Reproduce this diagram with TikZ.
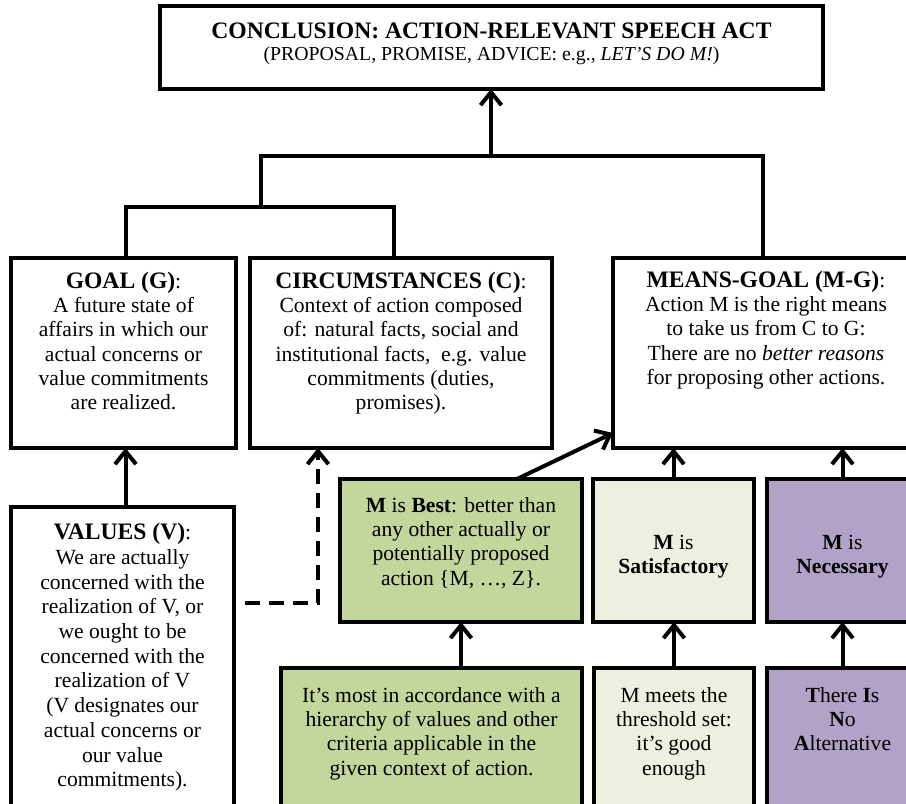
\documentclass[tikz,border=0pt]{standalone}
\usepackage{fontspec}
\setmainfont{Liberation Serif}
\usetikzlibrary{arrows.meta}
\definecolor{bestgreen}{HTML}{C3D69B}
\definecolor{satgreen}{HTML}{EBF1DE}
\definecolor{necpurple}{HTML}{B2A2C7}
\newcommand\bodyfont{\fontsize{21.6}{24.3}\selectfont}
\newcommand\hd[1]{{\fontsize{23.6}{24.3}\selectfont\bfseries\strut #1}}
\begin{document}
\begin{tikzpicture}[x=1pt,y=-1pt,
  box/.style={draw=black, line width=4.5pt, inner sep=0pt, outer sep=0pt, fill=white},
  txt/.style={anchor=north, inner sep=0pt, align=center, font=\bodyfont},
  link/.style={draw=black, line width=4pt},
  arr/.style={link, -{Straight Barb[length=13pt,width=21pt]}},
  dasharr/.style={arr, dash pattern=on 15pt off 9pt}]
\useasboundingbox (0,0) rectangle (906,804);
\clip (0,0) rectangle (906,804);
\fill[white] (0,0) rectangle (906,804);
% boxes
\node[box, minimum width=663pt, minimum height=83pt] (top) at (491.5,47.5) {};
\node[box, minimum width=225pt, minimum height=190pt] (goal) at (123.5,353) {};
\node[box, minimum width=302pt, minimum height=190pt] (circ) at (401,353) {};
\node[box, minimum width=306pt, minimum height=190pt] (mg) at (766,353) {};
\node[box, minimum width=223pt, minimum height=323pt] (vals) at (122.5,668.5) {};
\node[box, fill=bestgreen, minimum width=242pt, minimum height=143pt] (best) at (461,550.5) {};
\node[box, fill=satgreen, minimum width=161pt, minimum height=143pt] (sat) at (673.5,550.5) {};
\node[box, fill=necpurple, minimum width=151pt, minimum height=143pt] (nec) at (842.5,550.5) {};
\node[box, fill=bestgreen, minimum width=301pt, minimum height=162pt] (crit) at (431.5,749) {};
\node[box, fill=satgreen, minimum width=160pt, minimum height=162pt] (thr) at (674,749) {};
\node[box, fill=necpurple, minimum width=151pt, minimum height=162pt] (tina) at (842.5,749) {};
% texts
\node[txt, font=\fontsize{19.8}{22}\selectfont] (toptxt) at (491.5,21) {\hd{CONCLUSION: ACTION-RELEVANT SPEECH ACT}\\ (PROPOSAL, PROMISE, ADVICE: e.g., \textit{LET’S DO M!})};
\node[txt] (goaltxt) at (123.5,271) {\hd{GOAL (G)}:\\ A future state of\\ affairs in which our\\ actual concerns or\\ value commitments\\ are realized.};
\node[txt] (circtxt) at (401,271) {\hd{CIRCUMSTANCES (C)}:\\ Context of action composed\\ of: natural facts, social and\\ institutional facts,\ \ e.g. value\\ commitments (duties,\\ promises).};
\node[txt] (mgtxt) at (766,270) {\hd{MEANS-GOAL (M-G)}:\\ Action M is the right means\\ to take us from C to G:\\ There are no \textit{better reasons}\\ for proposing other actions.};
\node[txt, font=\fontsize{21.6}{24.7}\selectfont] (valstxt) at (122.5,522.5) {\hd{VALUES (V)}:\\ We are actually\\ concerned with the\\ realization of V, or\\ we ought to be\\ concerned with the\\ realization of V\\ (V designates our\\ actual concerns or\\ our value\\ commitments).};
\node[txt] (besttxt) at (461,495) {\strut\textbf{M} is \textbf{Best}: better than\\ any other actually or\\ potentially proposed\\ action \{M, …, Z\}.};
\node[txt] (sattxt) at (673.5,532) {\strut\textbf{M} is\\ \textbf{Satisfactory}};
\node[txt] (nectxt) at (842.5,532) {\strut\textbf{M} is\\ \textbf{Necessary}};
\node[txt] (crittxt) at (431.5,685) {\strut It’s most in accordance with a\\ hierarchy of values and other\\ criteria applicable in the\\ given context of action.};
\node[txt] (thrtxt) at (674,685) {\strut M meets the\\ threshold set:\\ it’s good\\ enough};
\node[txt] (tinatxt) at (842.5,685) {\strut\textbf{T}here \textbf{I}s\\ \textbf{N}o\\ \textbf{A}lternative};
% junction coordinates
\coordinate (jL) at (126,207);
\coordinate (jR) at (394,207);
\coordinate (jM) at (261,207);
\coordinate (jT) at (261,156);
\coordinate (jMG) at (763,156);
\coordinate (hub) at (491,156);
\coordinate (d0) at (245,603);
\coordinate (dc) at (318,603);
% connectors
\draw[link] (goal.north -| jL) -- (jL) -- (jR) -- (circ.north -| jR);
\draw[link] (jM) -- (jT) -- (jMG) -- (mg.north -| jMG);
\draw[arr] (hub) -- (top.south -| hub);
\draw[arr] ([xshift=3pt]vals.north) -- ([xshift=3pt]vals.north |- goal.south);
\draw[dasharr] (d0) -- (dc) -- (dc |- circ.south);
\draw[arr] ([xshift=56pt]best.north) -- ([yshift=-80pt]mg.west);
\draw[arr] (sat.north) -- (sat.north |- mg.south);
\draw[arr] (nec.north) -- (nec.north |- mg.south);
\draw[arr] (crit.north -| best.south) -- (best.south);
\draw[arr] (thr.north) -- (thr.north |- sat.south);
\draw[arr] (tina.north) -- (tina.north |- nec.south);
\end{tikzpicture}
\end{document}
